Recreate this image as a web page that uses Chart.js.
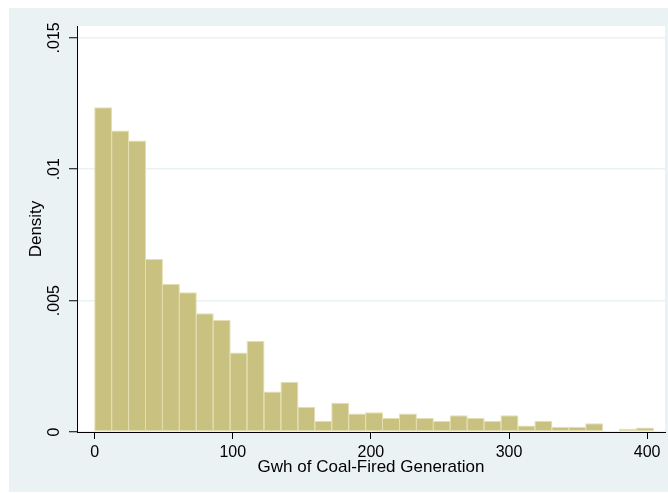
<!DOCTYPE html>
<html>
<head>
<meta charset="utf-8">
<script src="https://cdn.jsdelivr.net/npm/chart.js@4.4.0/dist/chart.umd.min.js"></script>
<style>
  html, body { margin: 0; padding: 0; background: #ffffff; }
  #frame { position: absolute; left: 9px; top: 8px; width: 659px; height: 484px; background: #EAF2F3; }
  canvas { display: block; }
</style>
</head>
<body>
<div id="frame"><canvas id="c" width="659" height="484"></canvas></div>
<script>
// Histogram bin centres (Gwh), bin width ~12.26
const binCenters = [6.13, 18.39, 30.65, 42.91, 55.17, 67.43, 79.69, 91.95, 104.21, 116.47,
  128.73, 140.99, 153.25, 165.51, 177.77, 190.03, 202.29, 214.55, 226.81, 239.07,
  251.33, 263.59, 275.85, 288.11, 300.37, 312.63, 324.89, 337.15, 349.41, 361.67,
  373.93, 386.19, 398.45];
// Density of each bin
const density = [0.01236, 0.01147, 0.01109, 0.00658, 0.00564, 0.00532, 0.00452, 0.00426, 0.00303, 0.00346,
  0.00154, 0.00191, 0.00096, 0.00043, 0.00111, 0.00070, 0.00075, 0.00053, 0.00070, 0.00053,
  0.00042, 0.00064, 0.00053, 0.00042, 0.00064, 0.00025, 0.00043, 0.00020, 0.00020, 0.00033,
  0, 0.00012, 0.00017];
const xTickValues = [0, 100, 200, 300, 400];
const xTickLabels = ['0', '100', '200', '300', '400'];
const yTickValues = [0, 0.005, 0.01, 0.015];
const yTickLabels = ['0', '.005', '.01', '.015'];
const xTitle = 'Gwh of Coal-Fired Generation';
const yTitle = 'Density';

const FONT = "'Liberation Sans', Arial, sans-serif";

const plotBg = {
  id: 'plotBg',
  beforeDraw(chart) {
    const a = chart.chartArea, ctx = chart.ctx;
    ctx.save();
    ctx.fillStyle = '#ffffff';
    ctx.fillRect(a.left, a.top, a.right - a.left, a.bottom - a.top);
    ctx.restore();
  }
};

new Chart(document.getElementById('c'), {
  type: 'bar',
  data: {
    datasets: [{
      data: binCenters.map((x, i) => ({ x: x, y: density[i] })),
      backgroundColor: 'rgb(201,193,128)',
      borderColor: 'rgb(228,223,178)',
      borderWidth: 1,
      borderSkipped: false,
      barPercentage: 1.06,
      categoryPercentage: 1.0
    }]
  },
  options: {
    responsive: false,
    animation: false,
    devicePixelRatio: 1,
    layout: { padding: { top: 18, right: 3, left: 0, bottom: 0 } },
    plugins: { legend: { display: false }, tooltip: { enabled: false } },
    scales: {
      x: {
        type: 'linear',
        min: -12.82,
        max: 412.96,
        offset: false,
        afterFit(s) { s.height = 60; },
        afterBuildTicks(s) { s.ticks = xTickValues.map(v => ({ value: v })); },
        ticks: {
          padding: 4,
          color: '#000',
          font: { family: FONT, size: 16 },
          maxRotation: 0,
          callback(v) { const i = xTickValues.indexOf(v); return i >= 0 ? xTickLabels[i] : ''; }
        },
        grid: { offset: false, drawOnChartArea: false, tickLength: 7, tickColor: '#000', tickWidth: 1 },
        border: { display: true, color: '#000', width: 1 },
        title: {
          display: true, text: xTitle, color: '#000',
          font: { family: FONT, size: 17 },
          padding: { top: 0, bottom: 14 }
        }
      },
      y: {
        type: 'linear',
        min: 0,
        max: 0.01545,
        afterFit(s) { s.width = 68; },
        afterBuildTicks(s) { s.ticks = yTickValues.map(v => ({ value: v })); },
        ticks: {
          padding: -1,
          color: '#000',
          crossAlign: 'center',
          minRotation: 90,
          maxRotation: 90,
          font: { family: FONT, size: 16 },
          callback(v) { const i = yTickValues.indexOf(v); return i >= 0 ? yTickLabels[i] : ''; }
        },
        grid: { color: '#EAF2F3', lineWidth: 1.5, tickLength: 8, tickColor: '#000', tickWidth: 1 },
        border: { display: true, color: '#000', width: 1 },
        title: {
          display: true, text: yTitle, color: '#000',
          font: { family: FONT, size: 17 },
          padding: { top: 17, bottom: 0 }
        }
      }
    }
  },
  plugins: [plotBg]
});
</script>
</body>
</html>
